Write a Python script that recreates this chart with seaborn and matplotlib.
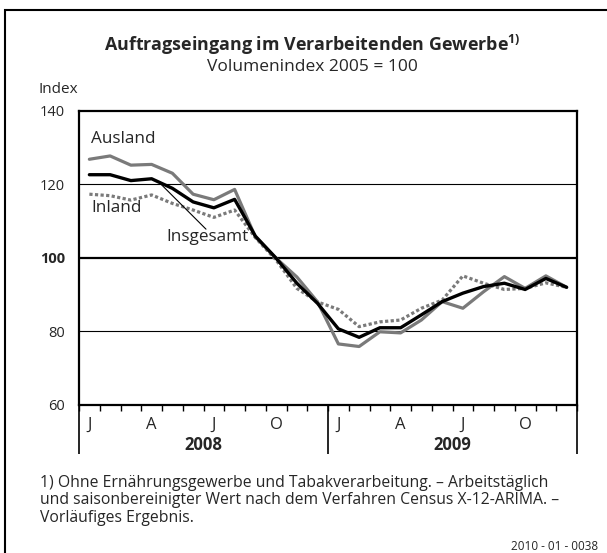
import numpy as np
import pandas as pd
import seaborn as sns
import matplotlib.pyplot as plt
import matplotlib.patches as patches

# Daten (Volumenindex 2005 = 100), Januar 2008 bis Dezember 2009
monate = ['J', 'F', 'M', 'A', 'M', 'J', 'J', 'A', 'S', 'O', 'N', 'D'] * 2
jahre = ['2008', '2009']
ausland = [126.8, 127.7, 125.2, 125.4, 123.0, 117.3, 115.8, 118.6, 105.7, 99.9, 94.8, 88.0,
           76.6, 75.9, 79.9, 79.6, 83.1, 88.1, 86.3, 90.8, 94.9, 91.7, 95.1, 92.0]
insgesamt = [122.6, 122.6, 121.0, 121.5, 118.9, 115.2, 113.6, 115.9, 105.9, 99.9, 93.1, 87.6,
             80.7, 78.4, 81.0, 81.0, 84.5, 88.1, 90.4, 92.2, 93.1, 91.4, 94.4, 92.0]
inland = [117.3, 116.9, 115.7, 117.1, 114.8, 113.0, 111.0, 113.0, 105.5, 99.4, 91.7, 88.0,
          86.0, 81.3, 82.6, 83.1, 86.3, 88.5, 95.1, 93.1, 91.4, 91.7, 93.2, 92.0]
y_ticks = [60, 80, 100, 120, 140]

df = pd.DataFrame({'Pos': np.arange(len(monate)) + 0.5,
                   'Ausland': ausland, 'Insgesamt': insgesamt, 'Inland': inland})

sns.set_theme(style="white")
plt.rcParams['font.family'] = ['Open Sans', 'DejaVu Sans']

W, H = 607, 553
fig = plt.figure(figsize=(W / 100, H / 100), dpi=100)
ax = fig.add_axes([79 / W, 1 - 405 / H, (577 - 79) / W, (405 - 110.7) / H])

grau = '#7a7a7a'
sns.lineplot(data=df, x='Pos', y='Inland', ax=ax, color=grau, linewidth=2.3,
             linestyle=(0, (1.0, 0.75)), dash_capstyle='butt', zorder=3)
sns.lineplot(data=df, x='Pos', y='Ausland', ax=ax, color=grau, linewidth=2.3, zorder=4)
sns.lineplot(data=df, x='Pos', y='Insgesamt', ax=ax, color='black', linewidth=2.4, zorder=5)

ax.set_xlim(0, 24)
ax.set_ylim(60, 140)
ax.set_xlabel('')
ax.set_ylabel('')

# Gitterlinien
for v in [80, 120]:
    ax.axhline(v, color='black', linewidth=0.8, zorder=1)
ax.axhline(100, color='black', linewidth=1.6, zorder=1)

for s in ax.spines.values():
    s.set_color('black')
    s.set_linewidth(1.6)

# y-Achse
ax.set_yticks(y_ticks)
ax.set_yticklabels([str(v) for v in y_ticks], fontsize=10.5)
ax.tick_params(axis='y', length=0, pad=10)
ax.get_yticklabels()[2].set_fontweight('bold')

# x-Achse: Monatsstriche, Jahrestrenner
ax.set_xticks(range(25))
ax.tick_params(axis='x', direction='out', length=4, width=1, color='black',
               labelbottom=False, bottom=True)
trans = ax.get_xaxis_transform()
ax.vlines([0, 12, 24], 0, -0.165, transform=trans, color='black', linewidth=1.2, clip_on=False)
for i, m in enumerate(monate):
    if i % 3 == 0:
        ax.text(i + 0.5, -0.068, m, transform=trans, ha='center', va='center', fontsize=12)
for j, jahr in enumerate(jahre):
    ax.text(12 * j + 6, -0.137, jahr, transform=trans, ha='center', va='center',
            fontsize=12, fontweight='bold')

# Serienbeschriftungen
ax.text(0.6, 132.3, 'Ausland', fontsize=12.3, va='center', ha='left')
ax.text(0.6, 113.5, 'Inland', fontsize=12.3, va='center', ha='left')
ax.text(4.2, 105.6, 'Insgesamt', fontsize=12.3, va='center', ha='left')
ax.plot([3.9, 6.12], [120.3, 107.8], color='black', linewidth=0.8, zorder=6)

# Titel
fig.text(312 / W, 1 - 45 / H, r'Auftragseingang im Verarbeitenden Gewerbe$^{\mathregular{1)}}$',
         ha='center', va='center', fontsize=12.9, fontweight='bold')
fig.text(312 / W, 1 - 67 / H, 'Volumenindex 2005 = 100', ha='center', va='center', fontsize=12.5)
fig.text(38 / W, 1 - 90 / H, 'Index', ha='left', va='center', fontsize=11)

# Fußnote
fussnote = ['1) Ohne Ernährungsgewerbe und Tabakverarbeitung. – Arbeitstäglich',
            'und saisonbereinigter Wert nach dem Verfahren Census X-12-ARIMA. –',
            'Vorläufiges Ergebnis.']
for k, zeile in enumerate(fussnote):
    fig.text(40 / W, 1 - (483 + 17.5 * k) / H, zeile, ha='left', va='center', fontsize=11.3)
fig.text(598 / W, 1 - 546 / H, '2010 - 01 - 0038', ha='right', va='center', fontsize=8.5)

# Rahmen
fig.patches.append(patches.Rectangle((5 / W, -0.05), 1.1, 1 - 10 / H + 0.05,
                                     transform=fig.transFigure, fill=False,
                                     edgecolor='black', linewidth=1.5))

plt.savefig('out.png', dpi=100)
